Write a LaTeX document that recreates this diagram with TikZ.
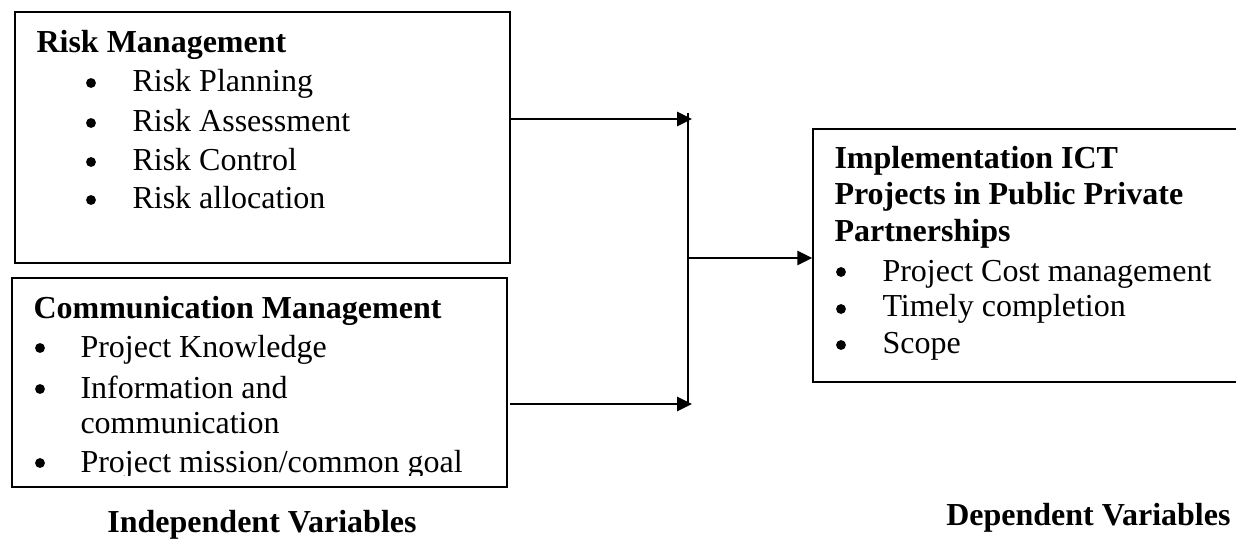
\documentclass[tikz,border=0pt]{standalone}
\usepackage{fontspec}
\setmainfont{Liberation Serif}
\usetikzlibrary{fit,arrows.meta}
\begin{document}
\begin{tikzpicture}[x=0.375pt,y=-0.375pt,
  box/.style={draw=black,line width=0.6pt,inner sep=0pt},
  txt/.style={anchor=base west,inner sep=0pt,font=\fontsize{12}{14}\selectfont},
  hd/.style={txt,font=\fontsize{12}{14}\selectfont\bfseries},
  bul/.style={circle,fill=black,inner sep=0pt,minimum size=3.7pt},
  conn/.style={draw=black,line width=0.7pt},
  arr/.style={conn,-{Triangle[length=5.6pt,width=5.4pt]}}]
\useasboundingbox (0,0) rectangle (1236,542);
\clip (0,0) rectangle (1236,542);
% boxes
\node[box,fit={(15,12) (510,263)}] (risk) {};
\node[box,fit={(12,278) (507,487)}] (comm) {};
\node[box,fit={(813,129) (1250,382)}] (dep) {};
% risk text
\node[hd] (rh) at (36,53) {Risk Management};
\node[bul] (rb1) at (91,83) {};
\node[txt] (r1) at (132,92) {Risk Planning};
\node[bul] (rb2) at (91,123) {};
\node[txt] (r2) at (132,132) {Risk Assessment};
\node[bul] (rb3) at (91,162) {};
\node[txt] (r3) at (132,171) {Risk Control};
\node[bul] (rb4) at (91,200) {};
\node[txt] (r4) at (132,209) {Risk allocation};
% communication text
\node[hd] (ch) at (33,318) {Communication Management};
\node[bul] (cb1) at (40,348) {};
\node[txt] (c1) at (80,357) {Project Knowledge};
\node[bul] (cb2) at (40,389) {};
\node[txt] (c2) at (80,398) {Information and};
\node[txt] (c2b) at (80,433) {communication};
\begin{scope}
\clip (12,278) rectangle (507,475.5);
\node[bul] (cb3) at (40,463) {};
\node[txt] (c3) at (80,472) {Project mission/common goal};
\end{scope}
% dependent text
\node[hd] (dh1) at (834,169) {Implementation ICT};
\node[hd] (dh2) at (834,205) {Projects in Public Private};
\node[hd] (dh3) at (834,242) {Partnerships};
\node[bul] (db1) at (841,272) {};
\node[txt] (d1) at (882,281) {Project Cost management};
\node[bul] (db2) at (841,309) {};
\node[txt] (d2) at (882,317) {Timely completion};
\node[bul] (db3) at (841,345) {};
\node[txt] (d3) at (882,353) {Scope};
% labels
\node[hd,anchor=base] (iv) at (262,532) {Independent Variables};
\node[hd,anchor=base east] (dv) at (1231,525) {Dependent Variables};
% connectors
\coordinate (s1) at (510,119);
\coordinate (t1) at (692,119);
\coordinate (s2) at (510,404);
\coordinate (t2) at (692,404);
\coordinate (vtop) at (688,113);
\coordinate (vbot) at (688,404);
\coordinate (jm) at (688,258);
\draw[conn] (vtop) -- (vbot);
\draw[arr] (s1) -- (t1);
\draw[arr] (s2) -- (t2);
\draw[arr] (jm) -- (jm -| dep.west);
\end{tikzpicture}
\end{document}
